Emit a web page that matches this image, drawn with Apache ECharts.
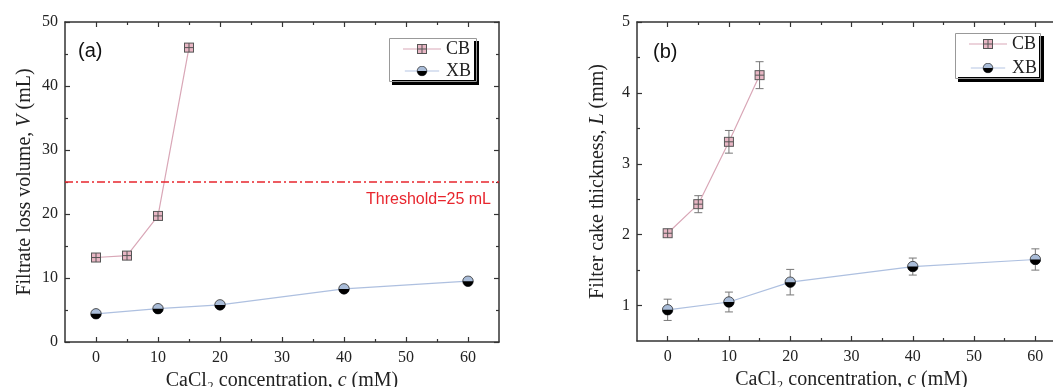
<!DOCTYPE html>
<html><head><meta charset="utf-8">
<script src="https://cdn.jsdelivr.net/npm/echarts@6/dist/echarts.min.js"></script>
<style>html,body{margin:0;padding:0;background:#fff}#c{width:1053px;height:387px}</style>
</head><body><div id="c"></div>
<script>
// ---- data ----
const cbConc = [0, 5, 10, 15];
const xbConc = [0, 10, 20, 40, 60];
const cbVolume = [13.2, 13.5, 19.7, 46.0];
const xbVolume = [4.4, 5.2, 5.8, 8.3, 9.5];
const cbThick = [2.02, 2.43, 3.31, 4.25];
const cbThickErr = [0.05, 0.12, 0.16, 0.19];
const xbThick = [0.94, 1.05, 1.33, 1.55, 1.65];
const xbThickErr = [0.15, 0.14, 0.18, 0.12, 0.15];
const threshold = 25;
const xMajor = [0, 10, 20, 30, 40, 50, 60];
const xMinor = [5, 15, 25, 35, 45, 55];
const yMajorA = [0, 10, 20, 30, 40, 50];
const yMinorA = [5, 15, 25, 35, 45];
const yMajorB = [1, 2, 3, 4, 5];
const yMinorB = [1.5, 2.5, 3.5, 4.5];

// ---- marker images ----
const svgUri = s => 'image://data:image/svg+xml;charset=utf-8,' + encodeURIComponent(s);
const cbSvg = '<svg xmlns="http://www.w3.org/2000/svg" width="22" height="22" viewBox="0 0 22 22">' +
  '<rect x="2" y="2" width="18" height="18" fill="#e8b6c4" stroke="#555" stroke-width="2"/>' +
  '<line x1="11" y1="2" x2="11" y2="20" stroke="#555" stroke-width="2"/>' +
  '<line x1="2" y1="11" x2="20" y2="11" stroke="#555" stroke-width="2"/></svg>';
const xbSvg = '<svg xmlns="http://www.w3.org/2000/svg" width="24" height="24" viewBox="0 0 24 24">' +
  '<circle cx="12" cy="12" r="10.5" fill="#a9bcd8" stroke="#222" stroke-width="1.5"/>' +
  '<path d="M1.5 12 A10.5 10.5 0 0 0 22.5 12 Z" fill="#000"/></svg>';
const cbLegSvg = '<svg xmlns="http://www.w3.org/2000/svg" width="76" height="22" viewBox="0 0 76 22">' +
  '<line x1="0" y1="11" x2="76" y2="11" stroke="#d9a7b7" stroke-width="2"/>' +
  '<rect x="29" y="2" width="18" height="18" fill="#e8b6c4" stroke="#555" stroke-width="2"/>' +
  '<line x1="38" y1="2" x2="38" y2="20" stroke="#555" stroke-width="2"/>' +
  '<line x1="29" y1="11" x2="47" y2="11" stroke="#555" stroke-width="2"/></svg>';
const xbLegSvg = '<svg xmlns="http://www.w3.org/2000/svg" width="76" height="24" viewBox="0 0 76 24">' +
  '<line x1="0" y1="12" x2="76" y2="12" stroke="#aec0e0" stroke-width="2"/>' +
  '<circle cx="38" cy="12" r="10.5" fill="#a9bcd8" stroke="#222" stroke-width="1.5"/>' +
  '<path d="M27.5 12 A10.5 10.5 0 0 0 48.5 12 Z" fill="#000"/></svg>';

const serif = '"Liberation Serif", "Times New Roman", serif';
const sans = '"Liberation Sans", Arial, sans-serif';
const axisColor = '#333';

function xAxes(grid, name) {
  const base = { type: 'value', gridIndex: grid, min: -5, max: 65, splitLine: { show: false } };
  return [
    Object.assign({}, base, {
      position: 'bottom', name: name, nameLocation: 'middle', nameGap: 23,
      nameTextStyle: { fontFamily: serif, fontSize: 20, color: '#222',
        rich: { i: { fontFamily: serif, fontSize: 20, fontStyle: 'italic', color: '#222' } } },
      axisLine: { onZero: false, lineStyle: { color: axisColor, width: 1.5 } },
      axisTick: { inside: true, length: 5, customValues: xMajor, lineStyle: { color: axisColor, width: 1.2 } },
      axisLabel: { customValues: xMajor, margin: 8, fontFamily: serif, fontSize: 16, color: '#222' }
    }),
    Object.assign({}, base, {
      position: 'bottom', axisLine: { show: false, onZero: false }, axisLabel: { show: false },
      axisTick: { inside: true, length: 3, customValues: xMinor, lineStyle: { color: axisColor, width: 1.2 } }
    }),
    Object.assign({}, base, {
      position: 'top', axisLine: { onZero: false, lineStyle: { color: axisColor, width: 1.5 } }, axisLabel: { show: false },
      axisTick: { inside: true, length: 5, customValues: xMajor, lineStyle: { color: axisColor, width: 1.2 } }
    }),
    Object.assign({}, base, {
      position: 'top', axisLine: { show: false, onZero: false }, axisLabel: { show: false },
      axisTick: { inside: true, length: 3, customValues: xMinor, lineStyle: { color: axisColor, width: 1.2 } }
    })
  ];
}
function yAxes(grid, name, min, max, major, minor, gap) {
  const base = { type: 'value', gridIndex: grid, min: min, max: max, splitLine: { show: false } };
  return [
    Object.assign({}, base, {
      position: 'left', name: name, nameLocation: 'middle', nameGap: gap,
      nameTextStyle: { fontFamily: serif, fontSize: 20, color: '#222',
        rich: { i: { fontFamily: serif, fontSize: 20, fontStyle: 'italic', color: '#222' } } },
      axisLine: { onZero: false, lineStyle: { color: axisColor, width: 1.5 } },
      axisTick: { inside: true, length: 5, customValues: major, lineStyle: { color: axisColor, width: 1.2 } },
      axisLabel: { customValues: major, margin: 7, fontFamily: serif, fontSize: 16, color: '#222' }
    }),
    Object.assign({}, base, {
      position: 'left', axisLine: { show: false, onZero: false }, axisLabel: { show: false },
      axisTick: { inside: true, length: 3, customValues: minor, lineStyle: { color: axisColor, width: 1.2 } }
    }),
    Object.assign({}, base, {
      position: 'right', axisLine: { onZero: false, lineStyle: { color: axisColor, width: 1.5 } }, axisLabel: { show: false },
      axisTick: { inside: true, length: 5, customValues: major, lineStyle: { color: axisColor, width: 1.2 } }
    }),
    Object.assign({}, base, {
      position: 'right', axisLine: { show: false, onZero: false }, axisLabel: { show: false },
      axisTick: { inside: true, length: 3, customValues: minor, lineStyle: { color: axisColor, width: 1.2 } }
    })
  ];
}

const xName = 'CaCl₂ concentration, {i|c} (mM)';
const pairs = (xs, ys) => xs.map((x, i) => [x, ys[i]]);
const errData = (xs, ys, es) => xs.map((x, i) => [x, ys[i] - es[i], ys[i] + es[i]]);

function errorSeries(xIdx, yIdx, data) {
  return {
    type: 'custom', xAxisIndex: xIdx, yAxisIndex: yIdx, z: 1, silent: true, data: data,
    renderItem: function (params, api) {
      const lo = api.coord([api.value(0), api.value(1)]);
      const hi = api.coord([api.value(0), api.value(2)]);
      const w = 4;
      const st = { stroke: '#777', lineWidth: 1 };
      return { type: 'group', children: [
        { type: 'line', shape: { x1: lo[0], y1: lo[1], x2: hi[0], y2: hi[1] }, style: st },
        { type: 'line', shape: { x1: lo[0] - w, y1: lo[1], x2: lo[0] + w, y2: lo[1] }, style: st },
        { type: 'line', shape: { x1: hi[0] - w, y1: hi[1], x2: hi[0] + w, y2: hi[1] }, style: st }
      ] };
    }
  };
}

const legendCommon = {
  orient: 'vertical', itemWidth: 38, itemHeight: 11, itemGap: 4,
  backgroundColor: '#fff', borderWidth: 0, borderRadius: 0,
  shadowColor: '#000', shadowBlur: 0, shadowOffsetX: 5, shadowOffsetY: 5,
  textStyle: { fontFamily: serif, fontSize: 18, color: '#222', padding: [0, 0, 0, 0] },
  data: [{ name: 'CB', icon: svgUri(cbLegSvg) }, { name: 'XB', icon: svgUri(xbLegSvg) }]
};
// legend frame boxes [left, top, width, height]
const legendBoxA = [387, 36, 87, 43];
const legendBoxB = [953, 31, 85, 45];
const frame = b => ({ type: 'rect', left: b[0], top: b[1], z: 200,
  shape: { width: b[2], height: b[3] }, style: { fill: 'none', stroke: '#999', lineWidth: 1 } });

const option = {
  backgroundColor: '#fff',
  animation: false,
  grid: [
    { left: 65, top: 22, width: 434, height: 320, outerBoundsMode: 'none' },
    { left: 637, top: 22, width: 429, height: 319, outerBoundsMode: 'none' }
  ],
  xAxis: xAxes(0, xName).concat(xAxes(1, xName)),
  yAxis: yAxes(0, 'Filtrate loss volume, {i|V} (mL)', 0, 50, yMajorA, yMinorA, 30)
    .concat(yAxes(1, 'Filter cake thickness, {i|L} (mm)', 0.5, 5, yMajorB, yMinorB, 29)),
  legend: [
    Object.assign({}, legendCommon, { left: legendBoxA[0], top: legendBoxA[1], padding: [4, 3, 0, 16] }),
    Object.assign({}, legendCommon, { left: legendBoxB[0], top: legendBoxB[1], itemGap: 6, padding: [4, 2, 0, 16] })
  ],
  graphic: [
    { type: 'text', left: 78, top: 41, style: { text: '(a)', font: '20px ' + sans, fill: '#111' } },
    { type: 'text', left: 653, top: 42, style: { text: '(b)', font: '20px ' + sans, fill: '#111' } },
    frame(legendBoxA), frame(legendBoxB)
  ],
  series: [
    {
      name: 'CB', type: 'line', xAxisIndex: 0, yAxisIndex: 0, z: 3,
      data: pairs(cbConc, cbVolume), symbol: svgUri(cbSvg), symbolSize: 11,
      lineStyle: { color: '#d9a7b7', width: 1.2 }, itemStyle: { color: '#e8b6c4' },
      markLine: {
        silent: true, symbol: 'none',
        lineStyle: { color: '#e8262e', width: 1.5, type: [8, 3, 2, 3] },
        label: { position: 'insideEndBottom', formatter: 'Threshold=25 mL', color: '#e8262e',
          fontFamily: sans, fontSize: 16, distance: [8, 10] },
        data: [{ yAxis: threshold }]
      }
    },
    {
      name: 'XB', type: 'line', xAxisIndex: 0, yAxisIndex: 0, z: 3,
      data: pairs(xbConc, xbVolume), symbol: svgUri(xbSvg), symbolSize: 12,
      lineStyle: { color: '#aec0e0', width: 1.2 }, itemStyle: { color: '#a9bcd8' }
    },
    errorSeries(4, 4, errData(cbConc, cbThick, cbThickErr)),
    errorSeries(4, 4, errData(xbConc, xbThick, xbThickErr)),
    {
      name: 'CB', type: 'line', xAxisIndex: 4, yAxisIndex: 4, z: 3,
      data: pairs(cbConc, cbThick), symbol: svgUri(cbSvg), symbolSize: 11,
      lineStyle: { color: '#d9a7b7', width: 1.2 }, itemStyle: { color: '#e8b6c4' }
    },
    {
      name: 'XB', type: 'line', xAxisIndex: 4, yAxisIndex: 4, z: 3,
      data: pairs(xbConc, xbThick), symbol: svgUri(xbSvg), symbolSize: 12,
      lineStyle: { color: '#aec0e0', width: 1.2 }, itemStyle: { color: '#a9bcd8' }
    }
  ]
};
const chart = echarts.init(document.getElementById('c'), null, { renderer: 'canvas' });
chart.setOption(option);
</script></body></html>
